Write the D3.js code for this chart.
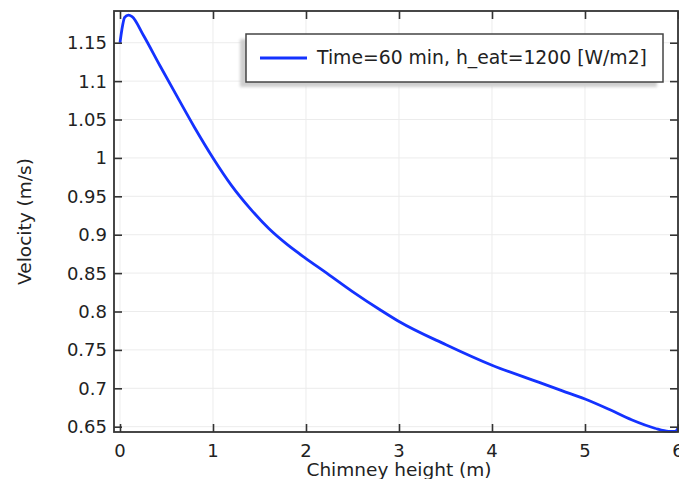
<!DOCTYPE html>
<html>
<head>
<meta charset="utf-8">
<script src="https://cdn.jsdelivr.net/npm/d3@7.9.0/dist/d3.min.js"></script>
<style>
  body { margin: 0; background: #fff; }
  svg { display: block; font-family: "DejaVu Sans", sans-serif; }
</style>
</head>
<body>
<svg id="chart" width="679" height="479"></svg>
<script>
// ---- data ----
const heights  = [0, 0.02, 0.05, 0.09, 0.13, 0.25, 0.43, 0.6, 0.8, 1.0, 1.2, 1.4, 1.6, 1.8, 2.0, 2.2, 2.5, 2.8, 3.0, 3.5, 4.0, 4.5, 4.75, 5.0, 5.25, 5.5, 5.75, 5.9, 5.97, 6.0];
const velocity = [1.15, 1.167, 1.183, 1.186, 1.184, 1.16, 1.12, 1.083, 1.04, 1.0, 0.964, 0.934, 0.908, 0.887, 0.869, 0.852, 0.826, 0.802, 0.787, 0.757, 0.730, 0.708, 0.697, 0.686, 0.673, 0.659, 0.648, 0.644, 0.644, 0.648];

const xTicks = [0, 1, 2, 3, 4, 5, 6];
const yTicks = [0.65, 0.7, 0.75, 0.8, 0.85, 0.9, 0.95, 1.0, 1.05, 1.1, 1.15];
const yTickLabels = ["0.65", "0.7", "0.75", "0.8", "0.85", "0.9", "0.95", "1", "1.05", "1.1", "1.15"];
const legendLabel = "Time=60 min, h_eat=1200 [W/m2]";

// ---- layout ----
const plotL = 114, plotR = 678, plotT = 11, plotB = 432;
const svg = d3.select("#chart");

const x = d3.scaleLinear().domain([-0.0645, 6]).range([plotL, plotR]);
const y = d3.scaleLinear().domain([0.6431, 1.1913]).range([plotB, plotT]);

// grid
svg.append("g").selectAll("line").data(xTicks).enter().append("line")
  .attr("x1", d => x(d)).attr("x2", d => x(d))
  .attr("y1", plotT).attr("y2", plotB)
  .attr("stroke", "#ececec").attr("stroke-width", 1);
svg.append("g").selectAll("line").data(yTicks).enter().append("line")
  .attr("x1", plotL).attr("x2", plotR)
  .attr("y1", d => y(d)).attr("y2", d => y(d))
  .attr("stroke", "#ececec").attr("stroke-width", 1);

// curve
const line = d3.line()
  .x((d, i) => x(heights[i]))
  .y(d => y(d))
  .curve(d3.curveMonotoneX);
svg.append("path")
  .datum(velocity)
  .attr("d", line)
  .attr("fill", "none")
  .attr("stroke", "#1432ff")
  .attr("stroke-width", 2.8)
  .attr("stroke-linejoin", "round");

// frame with inward ticks on all sides
const axisColor = "#333";
const tk = 8;
svg.append("g").attr("transform", `translate(0,${plotB})`)
  .call(d3.axisTop(x).tickValues(xTicks).tickSize(tk).tickFormat(""))
  .call(g => g.select(".domain").remove());
svg.append("g").attr("transform", `translate(0,${plotT})`)
  .call(d3.axisBottom(x).tickValues(xTicks).tickSize(tk).tickFormat(""))
  .call(g => g.select(".domain").remove());
svg.append("g").attr("transform", `translate(${plotL},0)`)
  .call(d3.axisRight(y).tickValues(yTicks).tickSize(tk).tickFormat(""))
  .call(g => g.select(".domain").remove());
svg.append("g").attr("transform", `translate(${plotR},0)`)
  .call(d3.axisLeft(y).tickValues(yTicks).tickSize(tk).tickFormat(""))
  .call(g => g.select(".domain").remove());
svg.selectAll(".tick line").attr("stroke", axisColor).attr("stroke-width", 1.6);

svg.append("rect")
  .attr("x", plotL).attr("y", plotT)
  .attr("width", plotR - plotL).attr("height", plotB - plotT)
  .attr("fill", "none").attr("stroke", axisColor).attr("stroke-width", 1.8);

// tick labels
svg.append("g").selectAll("text").data(xTicks).enter().append("text")
  .attr("x", d => x(d)).attr("y", 457)
  .attr("text-anchor", "middle")
  .attr("font-size", "18px").attr("fill", "#222")
  .text(d => d);
svg.append("g").selectAll("text").data(yTicks).enter().append("text")
  .attr("x", 107).attr("y", d => y(d)).attr("dy", "0.36em")
  .attr("text-anchor", "end")
  .attr("font-size", "18px").attr("fill", "#222")
  .text((d, i) => yTickLabels[i]);

// axis titles
svg.append("text")
  .attr("x", 399).attr("y", 476)
  .attr("text-anchor", "middle")
  .attr("font-size", "18.5px").attr("fill", "#222")
  .text("Chimney height (m)");
svg.append("text")
  .attr("transform", `translate(31,${(plotT + plotB) / 2}) rotate(-90)`)
  .attr("text-anchor", "middle")
  .attr("font-size", "18.5px").attr("fill", "#222")
  .text("Velocity (m/s)");

// legend
const defs = svg.append("defs");
defs.append("filter").attr("id", "blur")
  .append("feGaussianBlur").attr("stdDeviation", 1.5);
const lg = svg.append("g");
lg.append("rect")
  .attr("x", 240).attr("y", 39).attr("width", 417).attr("height", 48)
  .attr("fill", "#cfcfcf").attr("filter", "url(#blur)");
lg.append("rect")
  .attr("x", 246).attr("y", 34).attr("width", 417).attr("height", 48)
  .attr("fill", "#fff").attr("stroke", "#444").attr("stroke-width", 1.5);
lg.append("line")
  .attr("x1", 260).attr("x2", 307).attr("y1", 58).attr("y2", 58)
  .attr("stroke", "#1432ff").attr("stroke-width", 2.8);
lg.append("text")
  .attr("x", 317).attr("y", 64)
  .attr("font-size", "18.8px").attr("fill", "#222")
  .text(legendLabel);
</script>
</body>
</html>
